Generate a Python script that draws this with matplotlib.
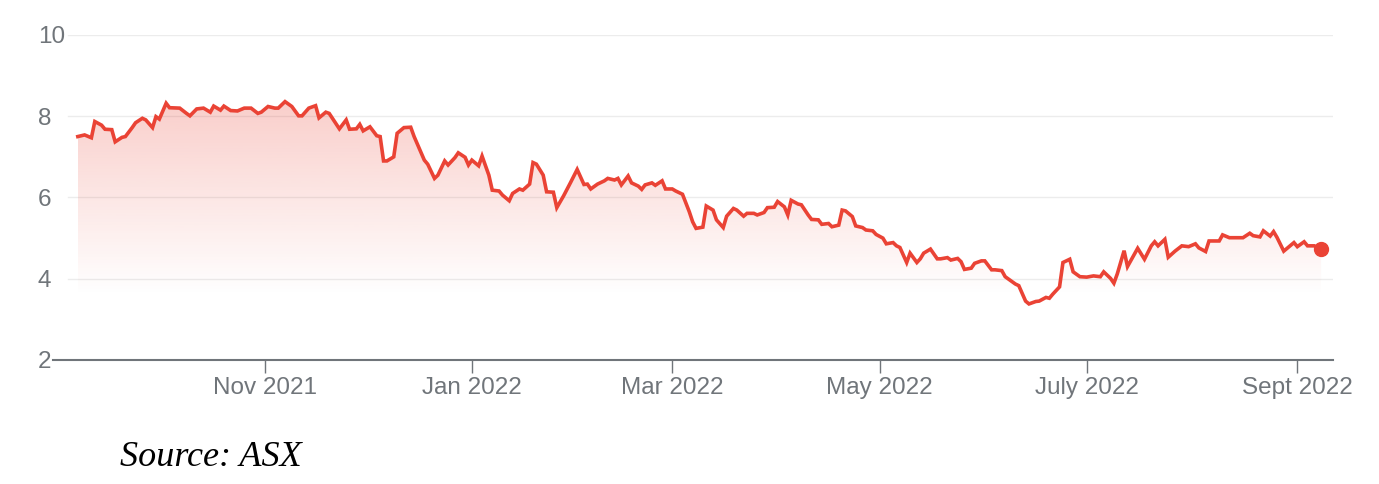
import matplotlib
matplotlib.use("Agg")
import matplotlib.pyplot as plt
import matplotlib.dates as mdates
import numpy as np
import pandas as pd
from matplotlib.colors import to_rgb

# share price
dates = [
    "2021-09-07", "2021-09-09", "2021-09-11", "2021-09-12", "2021-09-14", "2021-09-15", "2021-09-17", "2021-09-18",
    "2021-09-20", "2021-09-21", "2021-09-23", "2021-09-24", "2021-09-26", "2021-09-27", "2021-09-29", "2021-09-30",
    "2021-10-01", "2021-10-03", "2021-10-04", "2021-10-07", "2021-10-09", "2021-10-10", "2021-10-12", "2021-10-14",
    "2021-10-16", "2021-10-17", "2021-10-19", "2021-10-20", "2021-10-22", "2021-10-24", "2021-10-26", "2021-10-28",
    "2021-10-30", "2021-10-31", "2021-11-02", "2021-11-04", "2021-11-05", "2021-11-07", "2021-11-09", "2021-11-11",
    "2021-11-12", "2021-11-14", "2021-11-16", "2021-11-17", "2021-11-19", "2021-11-20", "2021-11-23", "2021-11-25",
    "2021-11-26", "2021-11-28", "2021-11-29", "2021-11-30", "2021-12-02", "2021-12-04", "2021-12-05", "2021-12-06",
    "2021-12-07", "2021-12-09", "2021-12-10", "2021-12-12", "2021-12-14", "2021-12-15", "2021-12-17", "2021-12-18",
    "2021-12-19", "2021-12-21", "2021-12-22", "2021-12-24", "2021-12-25", "2021-12-27", "2021-12-28", "2021-12-30",
    "2021-12-31", "2022-01-01", "2022-01-03", "2022-01-04", "2022-01-06", "2022-01-07", "2022-01-09", "2022-01-10",
    "2022-01-12", "2022-01-13", "2022-01-15", "2022-01-16", "2022-01-18", "2022-01-19", "2022-01-20", "2022-01-22",
    "2022-01-23", "2022-01-25", "2022-01-26", "2022-01-28", "2022-01-30", "2022-02-01", "2022-02-03", "2022-02-04",
    "2022-02-05", "2022-02-07", "2022-02-09", "2022-02-10", "2022-02-12", "2022-02-13", "2022-02-14", "2022-02-16",
    "2022-02-17", "2022-02-19", "2022-02-20", "2022-02-21", "2022-02-23", "2022-02-24", "2022-02-26", "2022-02-27",
    "2022-03-01", "2022-03-02", "2022-03-04", "2022-03-06", "2022-03-07", "2022-03-08", "2022-03-10", "2022-03-11",
    "2022-03-13", "2022-03-14", "2022-03-16", "2022-03-17", "2022-03-19", "2022-03-20", "2022-03-22", "2022-03-23",
    "2022-03-25", "2022-03-26", "2022-03-28", "2022-03-29", "2022-03-31", "2022-04-01", "2022-04-03", "2022-04-04",
    "2022-04-05", "2022-04-07", "2022-04-08", "2022-04-10", "2022-04-11", "2022-04-13", "2022-04-14", "2022-04-16",
    "2022-04-17", "2022-04-19", "2022-04-20", "2022-04-21", "2022-04-23", "2022-04-24", "2022-04-26", "2022-04-27",
    "2022-04-29", "2022-04-30", "2022-05-02", "2022-05-03", "2022-05-05", "2022-05-06", "2022-05-07", "2022-05-09",
    "2022-05-10", "2022-05-12", "2022-05-13", "2022-05-14", "2022-05-16", "2022-05-18", "2022-05-19", "2022-05-21",
    "2022-05-22", "2022-05-24", "2022-05-25", "2022-05-26", "2022-05-28", "2022-05-29", "2022-05-31", "2022-06-01",
    "2022-06-03", "2022-06-04", "2022-06-06", "2022-06-07", "2022-06-09", "2022-06-10", "2022-06-11", "2022-06-13",
    "2022-06-14", "2022-06-16", "2022-06-17", "2022-06-19", "2022-06-20", "2022-06-21", "2022-06-23", "2022-06-24",
    "2022-06-26", "2022-06-27", "2022-06-29", "2022-07-01", "2022-07-03", "2022-07-05", "2022-07-06", "2022-07-08",
    "2022-07-09", "2022-07-10", "2022-07-12", "2022-07-13", "2022-07-15", "2022-07-16", "2022-07-18", "2022-07-20",
    "2022-07-21", "2022-07-22", "2022-07-24", "2022-07-25", "2022-07-27", "2022-07-29", "2022-07-31", "2022-08-02",
    "2022-08-03", "2022-08-05", "2022-08-06", "2022-08-09", "2022-08-10", "2022-08-12", "2022-08-14", "2022-08-16",
    "2022-08-18", "2022-08-19", "2022-08-21", "2022-08-22", "2022-08-24", "2022-08-25", "2022-08-26", "2022-08-28",
    "2022-08-29", "2022-08-31", "2022-09-01", "2022-09-03", "2022-09-04", "2022-09-06", "2022-09-08",
]
prices = [
    7.50, 7.54, 7.47, 7.87, 7.78, 7.68, 7.67, 7.37,
    7.48, 7.50, 7.72, 7.84, 7.95, 7.91, 7.72, 7.99,
    7.93, 8.32, 8.21, 8.20, 8.07, 8.01, 8.18, 8.20,
    8.10, 8.25, 8.15, 8.25, 8.14, 8.13, 8.20, 8.20,
    8.07, 8.10, 8.24, 8.20, 8.20, 8.36, 8.24, 8.01,
    8.01, 8.20, 8.26, 7.96, 8.10, 8.07, 7.69, 7.91,
    7.68, 7.69, 7.80, 7.64, 7.74, 7.52, 7.50, 6.90,
    6.90, 7.00, 7.58, 7.72, 7.73, 7.50, 7.11, 6.92,
    6.82, 6.47, 6.55, 6.90, 6.80, 6.98, 7.10, 6.99,
    6.80, 6.92, 6.78, 7.02, 6.55, 6.18, 6.16, 6.06,
    5.92, 6.10, 6.21, 6.18, 6.33, 6.86, 6.82, 6.55,
    6.14, 6.13, 5.75, 6.04, 6.36, 6.69, 6.32, 6.33,
    6.21, 6.33, 6.41, 6.47, 6.43, 6.47, 6.31, 6.53,
    6.36, 6.28, 6.20, 6.31, 6.36, 6.30, 6.41, 6.21,
    6.21, 6.16, 6.08, 5.65, 5.40, 5.24, 5.27, 5.79,
    5.69, 5.45, 5.26, 5.54, 5.73, 5.69, 5.54, 5.61,
    5.61, 5.57, 5.63, 5.75, 5.76, 5.90, 5.77, 5.57,
    5.93, 5.84, 5.82, 5.57, 5.46, 5.45, 5.34, 5.36,
    5.28, 5.32, 5.69, 5.67, 5.53, 5.30, 5.26, 5.20,
    5.18, 5.09, 5.00, 4.86, 4.89, 4.81, 4.77, 4.40,
    4.63, 4.40, 4.49, 4.63, 4.73, 4.49, 4.49, 4.52,
    4.46, 4.50, 4.42, 4.23, 4.26, 4.38, 4.44, 4.44,
    4.22, 4.22, 4.20, 4.05, 3.93, 3.87, 3.83, 3.45,
    3.38, 3.44, 3.45, 3.54, 3.52, 3.62, 3.80, 4.40,
    4.48, 4.17, 4.05, 4.04, 4.07, 4.05, 4.17, 4.01,
    3.89, 4.12, 4.69, 4.30, 4.60, 4.75, 4.48, 4.81,
    4.91, 4.81, 4.97, 4.53, 4.68, 4.81, 4.79, 4.86,
    4.76, 4.67, 4.93, 4.93, 5.08, 5.01, 5.01, 5.01,
    5.12, 5.06, 5.03, 5.18, 5.05, 5.16, 5.02, 4.68,
    4.75, 4.89, 4.79, 4.91, 4.81, 4.81, 4.72,
]
tick_dates = ["2021-11-01", "2022-01-01", "2022-03-01", "2022-05-01", "2022-07-01", "2022-09-01"]
tick_labels = ["Nov 2021", "Jan 2022", "Mar 2022", "May 2022", "July 2022", "Sept 2022"]
y_ticks = [2, 4, 6, 8, 10]

RED = "#ea4335"
GREY = "#70757a"

x = mdates.date2num(pd.to_datetime(dates))
y = np.array(prices)

fig = plt.figure(figsize=(13.79, 4.84), dpi=100)
ax = fig.add_axes([0.0382, 0.2562, 0.9282, 0.6715])

x0 = mdates.date2num(pd.Timestamp("2021-08-31")) - 0.4
x1 = mdates.date2num(pd.Timestamp("2022-09-11")) + 0.4

# gradient fill under the line
top = y.max()
vals = np.linspace(2, top, 300)
alpha = np.clip((vals - 3.6) / (top - 3.6), 0, 1) * 0.26
rgba = np.zeros((300, 1, 4))
rgba[..., :3] = to_rgb(RED)
rgba[..., 3] = alpha[:, None]
im = ax.imshow(rgba, extent=[x[0], x[-1], 2, top], origin="lower", aspect="auto", zorder=1)
poly = ax.fill_between(x, y, 2, color="none", lw=0)
im.set_clip_path(poly.get_paths()[0], transform=ax.transData)

ax.plot(x, y, color=RED, lw=2.6, zorder=3, solid_joinstyle="miter")
ax.plot(x[-1], y[-1], "o", color=RED, ms=10, zorder=4)

# light grid lines (they start a bit in from the axis)
for v in y_ticks[1:]:
    ax.axhline(v, xmin=0.012, xmax=1, color="#ececec", lw=1, zorder=0)

ax.set_xlim(x0, x1)
ax.set_ylim(2, 10)

ax.set_yticks(y_ticks)
ax.set_yticklabels([str(v) for v in y_ticks])
ax.tick_params(axis="y", length=0, pad=10.6, labelsize=17.5, labelcolor=GREY)
for lab in ax.get_yticklabels():
    lab.set_horizontalalignment("left")
    lab.set_fontfamily("Liberation Sans")

ax.set_xticks(mdates.date2num(pd.to_datetime(tick_dates)))
ax.set_xticklabels(tick_labels, fontfamily="Liberation Sans")
ax.tick_params(axis="x", length=9.5, width=1, color=GREY, pad=3, labelsize=17.5, labelcolor=GREY)

for s in ["top", "right", "left"]:
    ax.spines[s].set_visible(False)
ax.spines["bottom"].set_color(GREY)
ax.spines["bottom"].set_linewidth(1.5)

fig.text(120 / 1379, 1 - 466 / 484, "Source: ASX", fontsize=26, fontstyle="italic",
         family="Liberation Serif", color="black", va="baseline", ha="left")

fig.savefig("out.png", dpi=100)
